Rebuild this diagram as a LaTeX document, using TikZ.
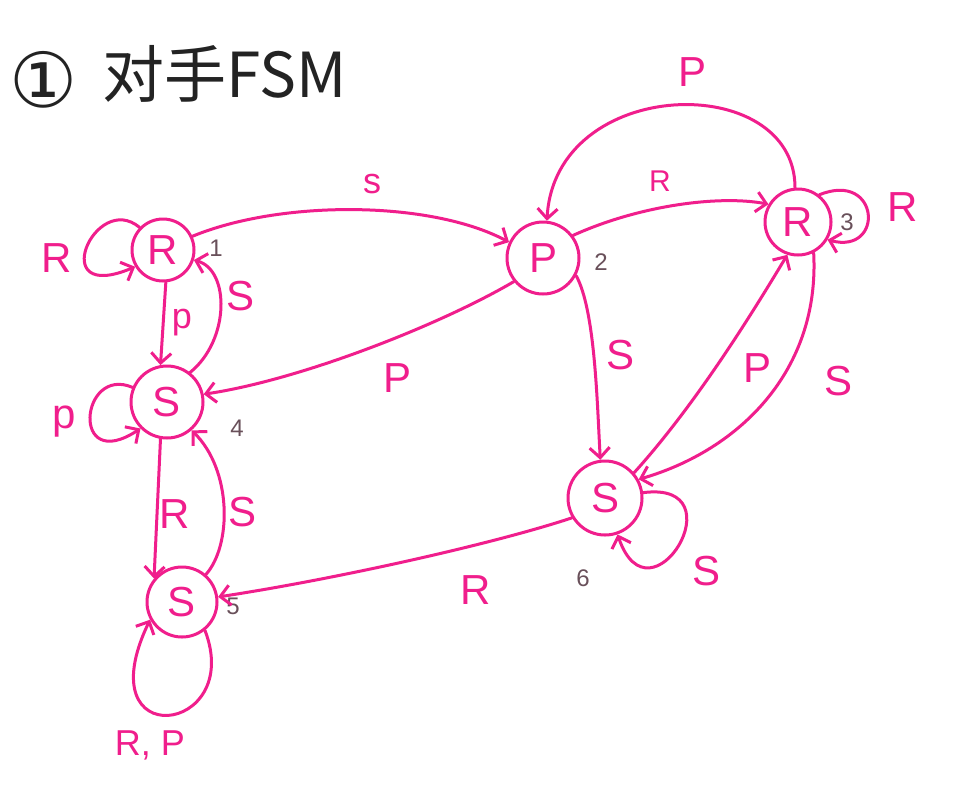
\documentclass[tikz,border=0pt]{standalone}
\usepackage{fontspec}
\setmainfont{Liberation Sans}
\newfontfamily\cjk{Noto Sans CJK SC}
\newfontfamily\symf{DejaVu Sans}
\usetikzlibrary{arrows.meta}
\definecolor{ink}{RGB}{240,30,140}
\definecolor{numc}{RGB}{105,80,90}
\definecolor{titlec}{RGB}{35,35,35}
\begin{document}
\begin{tikzpicture}[x=1pt,y=-1pt,
  st/.style={draw=ink,line width=3pt,circle,inner sep=0pt,text=ink,font=\fontsize{42}{48}\selectfont},
  edge/.style={draw=ink,line width=3pt,line cap=round,-{Straight Barb[length=10pt,width=20pt]}},
  lbl/.style={text=ink,font=\fontsize{42}{48}\selectfont,inner sep=0pt},
  slbl/.style={text=ink,font=\fontsize{30}{36}\selectfont,inner sep=0pt},
  num/.style={text=numc,font=\fontsize{24}{28}\selectfont,inner sep=0pt}]
\useasboundingbox (0,0) rectangle (960,793);
\fill[white] (0,0) rectangle (960,793);
% title
\node[text=titlec,font=\symf\fontsize{76}{80}\selectfont,inner sep=0pt] (t1) at (44,80) {①};
\node[text=titlec,font=\cjk\fontsize{62}{68}\selectfont,inner sep=0pt,anchor=west] (t2) at (102,74) {对手FSM};
% states
\node[st,minimum size=62pt] (n1) at (163,250) {R};
\node[st,minimum size=72pt] (n2) at (543,258) {P};
\node[st,minimum size=66pt] (n3) at (798,222) {R};
\node[st,minimum size=72pt] (n4) at (167,402) {S};
\node[st,minimum size=70pt] (n5) at (182,602) {S};
\node[st,minimum size=74pt] (n6) at (605,498) {S};
% state numbers
\node[num] (k1) at (216,248) {1};
\node[num] (k2) at (601,262) {2};
\node[num] (k3) at (847,222) {3};
\node[num] (k4) at (237,428) {4};
\node[num] (k5) at (233,606) {5};
\node[num] (k6) at (583,578) {6};
% edges
\draw[edge] (n1.136) .. controls (95,190) and (45,305) .. (n1.211);
\node[lbl] (l1) at (57,258) {R};
\draw[edge] (n1.25) .. controls (280,200) and (430,200) .. (n2.155);
\node[slbl,font=\fontsize{36}{40}\selectfont] (l2) at (372,184) {s};
\draw[edge] (n1.275) -- (n4.100);
\node[slbl,font=\fontsize{36}{40}\selectfont] (l3) at (182,323) {p};
\draw[edge] (n4.52) .. controls (230,340) and (230,270) .. (n1.342);
\node[lbl] (l4) at (241,296) {S};
\draw[edge] (n4.157) .. controls (80,365) and (70,475) .. (n4.225);
\node[lbl] (l5) at (64,422) {p};
\draw[edge] (n2.219) .. controls (440,325) and (300,380) .. (n4.12);
\node[lbl] (l6) at (398,378) {P};
\draw[edge] (n4.260) -- (n5.140);
\node[lbl] (l7) at (175,514) {R};
\draw[edge] (n5.49) .. controls (232,545) and (232,470) .. (n4.311);
\node[lbl] (l8) at (243,512) {S};
\draw[edge] (n5.309) .. controls (245,735) and (85,755) .. (n5.209);
\node[slbl,font=\fontsize{36}{40}\selectfont] (l9) at (150,745) {R, P};
\draw[edge] (n6.211) .. controls (490,545) and (330,580) .. (n5.8);
\node[lbl] (l10) at (476,590) {R};
\draw[edge] (n2.37) .. controls (640,205) and (720,195) .. (n3.149);
\node[slbl] (l11) at (660,181) {R};
\draw[edge] (n3.95) .. controls (795,70) and (555,75) .. (n2.84);
\node[lbl] (l12) at (692,72) {P};
\draw[edge] (n3.52) .. controls (880,170) and (885,255) .. (n3.329);
\node[lbl] (l13) at (903,207) {R};
\draw[edge] (n2.332) .. controls (595,310) and (597,400) .. (n6.97);
\node[lbl] (l14) at (620,355) {S};
\draw[edge] (n6.41) .. controls (700,400) and (760,300) .. (n3.252);
\node[lbl] (l15) at (757,368) {P};
\draw[edge] (n3.297) .. controls (820,370) and (740,450) .. (n6.29);
\node[lbl] (l16) at (838,381) {S};
\draw[edge] (n6.8) .. controls (740,480) and (650,630) .. (n6.289);
\node[lbl] (l17) at (706,571) {S};
\end{tikzpicture}
\end{document}
